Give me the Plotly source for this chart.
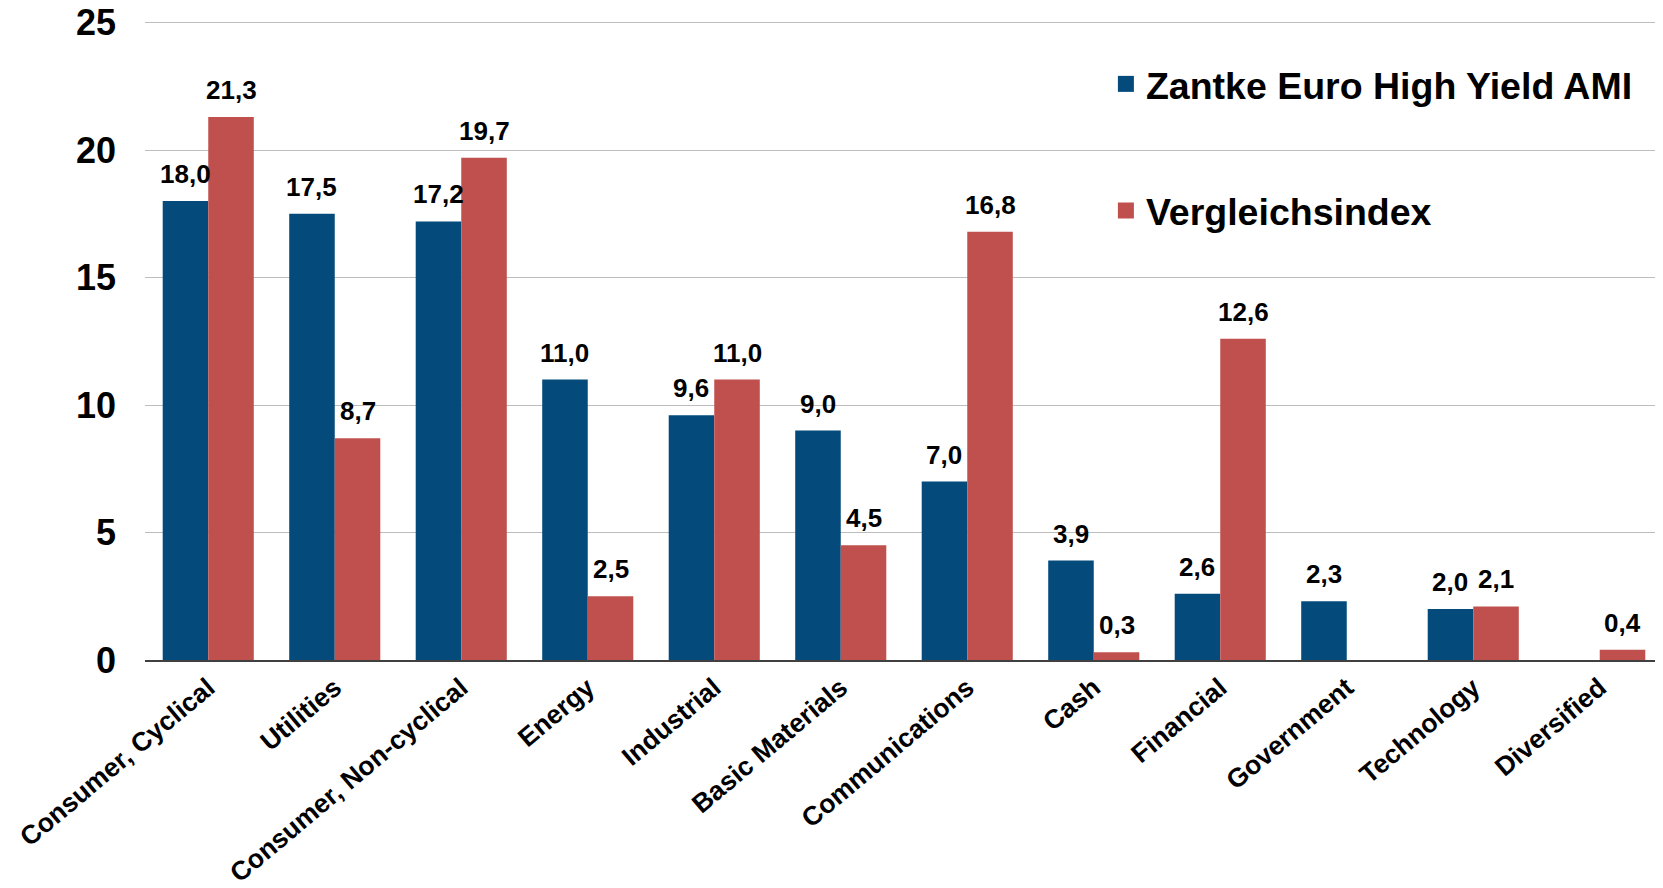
import plotly.graph_objects as go

categories = ["Consumer, Cyclical", "Utilities", "Consumer, Non-cyclical", "Energy",
              "Industrial", "Basic Materials", "Communications", "Cash", "Financial",
              "Government", "Technology", "Diversified"]
fund_values = [18.0, 17.5, 17.2, 11.0, 9.6, 9.0, 7.0, 3.9, 2.6, 2.3, 2.0, None]
index_values = [21.3, 8.7, 19.7, 2.5, 11.0, 4.5, 16.8, 0.3, 12.6, None, 2.1, 0.4]
series_names = ["Zantke Euro High Yield AMI", "Vergleichsindex"]
y_ticks = [0, 5, 10, 15, 20, 25]

BLUE = "#044b7c"
RED = "#c0504d"
FONT = "Liberation Sans, Arial, sans-serif"

# the page body adds an 8px offset, so the figure is 8px smaller
W, H = 1655, 880
ML, MR, MT, MB = 137, 0, 12, 228
BARGAP = 0.28

fig = go.Figure()
for vals, color in [(fund_values, BLUE), (index_values, RED)]:
    fig.add_trace(go.Bar(x=categories, y=vals, marker=dict(color=color, line=dict(width=0)),
                         showlegend=False, hoverinfo="x+y"))

# legend entries (square markers)
fig.add_trace(go.Scatter(x=[None], y=[None], mode="markers", name=series_names[0],
                         marker=dict(symbol="square", size=16, color=BLUE), legend="legend"))
fig.add_trace(go.Scatter(x=[None], y=[None], mode="markers", name=series_names[1],
                         marker=dict(symbol="square", size=16, color=RED), legend="legend2"))


def fmt(v):
    return f"{v:.1f}".replace(".", ",")


# value labels above bars
plot_w = W - ML - MR
cat_w = plot_w / len(categories)
bar_w = cat_w * (1 - BARGAP) / 2
for series, sign in [(fund_values, -1), (index_values, 1)]:
    for c, v in zip(categories, series):
        if v is None:
            continue
        fig.add_annotation(x=c, y=v, text=fmt(v), showarrow=False, yanchor="bottom",
                           xshift=sign * bar_w / 2, yshift=10,
                           font=dict(family=FONT, size=26, color="black", weight="bold"))

fig.update_layout(
    width=W, height=H,
    margin=dict(l=ML, r=MR, t=MT, b=MB),
    paper_bgcolor="white", plot_bgcolor="white",
    barmode="group", bargap=BARGAP, bargroupgap=0,
    font=dict(family=FONT, color="black"),
    legend=dict(x=0.633, y=0.9, xanchor="left", yanchor="middle", bgcolor="rgba(0,0,0,0)",
                font=dict(family=FONT, size=37.5, color="black", weight="bold")),
    legend2=dict(x=0.633, y=0.702, xanchor="left", yanchor="middle", bgcolor="rgba(0,0,0,0)",
                 font=dict(family=FONT, size=37.5, color="black", weight="bold")),
)
fig.update_xaxes(showline=True, linecolor="#404040", linewidth=1.5, showgrid=False,
                 tickangle=-40, ticks="", automargin=False, ticklabeloverflow="allow",
                 tickfont=dict(family=FONT, size=26.5, color="black", weight="bold"))
fig.update_yaxes(range=[0, 25.1], tickvals=y_ticks, showgrid=True, gridcolor="#bdbdbd",
                 gridwidth=1.2, zeroline=False, ticklabelstandoff=28, automargin=False,
                 ticklabeloverflow="allow",
                 tickfont=dict(family=FONT, size=36, color="black", weight="bold"))

fig.write_html("out.html")
